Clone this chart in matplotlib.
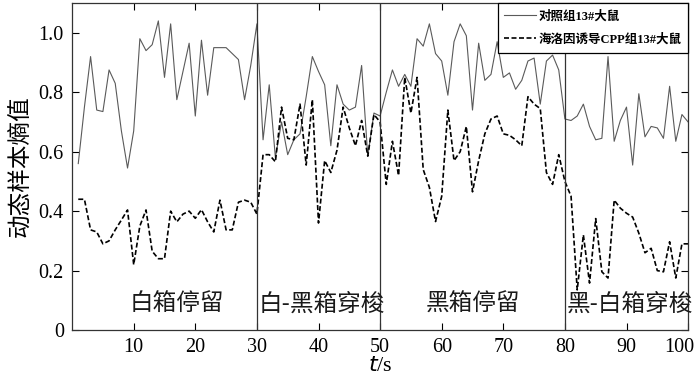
import numpy as np
import matplotlib
matplotlib.use('Agg')
import matplotlib.pyplot as plt
import matplotlib.transforms as mtransforms

t = np.arange(1, 101)

# dynamic sample entropy, control rat 13
control = [0.56, 0.75, 0.92, 0.74, 0.735, 0.875, 0.83, 0.67, 0.545, 0.67,
           0.98, 0.94, 0.96, 1.04, 0.85, 1.03, 0.775, 0.87, 0.965, 0.72,
           0.975, 0.79, 0.95, 0.95, 0.95, 0.93, 0.91, 0.775, 0.89, 1.03,
           0.64, 0.825, 0.58, 0.70, 0.59, 0.64, 0.66, 0.785, 0.92, 0.87,
           0.825, 0.62, 0.825, 0.76, 0.74, 0.75, 0.89, 0.585, 0.73, 0.72,
           0.80, 0.875, 0.82, 0.86, 0.82, 0.98, 0.955, 1.03, 0.93, 0.905,
           0.79, 0.97, 1.03, 0.99, 0.74, 0.965, 0.84, 0.86, 0.97, 0.85,
           0.865, 0.81, 0.84, 0.905, 0.915, 0.76, 0.905, 0.925, 0.875, 0.71,
           0.705, 0.72, 0.76, 0.685, 0.64, 0.645, 0.92, 0.635, 0.705, 0.75,
           0.555, 0.795, 0.65, 0.685, 0.68, 0.645, 0.82, 0.635, 0.725, 0.70]

# heroin induced CPP rat 13
cpp = [0.44, 0.44, 0.337, 0.33, 0.29, 0.30, 0.337, 0.37, 0.404, 0.22,
       0.35, 0.404, 0.265, 0.24, 0.24, 0.40, 0.364, 0.39, 0.40, 0.376,
       0.405, 0.364, 0.33, 0.437, 0.337, 0.337, 0.43, 0.437, 0.43, 0.39,
       0.59, 0.59, 0.566, 0.75, 0.645, 0.64, 0.76, 0.555, 0.775, 0.36,
       0.57, 0.53, 0.605, 0.75, 0.68, 0.62, 0.705, 0.585, 0.725, 0.70,
       0.49, 0.635, 0.52, 0.85, 0.73, 0.85, 0.54, 0.48, 0.365, 0.45,
       0.74, 0.57, 0.60, 0.685, 0.465, 0.57, 0.66, 0.71, 0.72, 0.66,
       0.655, 0.64, 0.62, 0.785, 0.76, 0.745, 0.53, 0.49, 0.59, 0.50,
       0.45, 0.135, 0.32, 0.158, 0.375, 0.196, 0.175, 0.437, 0.41, 0.393,
       0.38, 0.326, 0.26, 0.275, 0.20, 0.196, 0.297, 0.175, 0.29, 0.29]

boundaries = [30, 50, 80]
phases = ['白箱停留', '白-黑箱穿梭', '黑箱停留', '黑-白箱穿梭']
phase_x = [17, 40.5, 65, 90.5]

yticks = [0, 0.2, 0.4, 0.6, 0.8, 1.0]
ytick_labels = ['0', '0.2', '0.4', '0.6', '0.8', '1.0']
xticks = [10, 20, 30, 40, 50, 60, 70, 80, 90, 100]

cjk = ['Noto Sans CJK SC', 'DejaVu Sans']
mixed = ['Liberation Serif', 'Noto Sans CJK SC']

fig = plt.figure(figsize=(7, 3.82), dpi=100)
ax = fig.add_axes([0.103, 0.136, 0.88, 0.856])

ax.plot(t, control, color='#5a5a5a', lw=0.8, label='对照组13#大鼠')
ax.plot(t, cpp, color='black', lw=1.2, ls=(0, (3, 1.5)), label='海洛因诱导CPP组13#大鼠')

for b in boundaries:
    ax.axvline(b, color='#333333', lw=0.9)

for x, s in zip(phase_x, phases):
    ax.text(x, 0.088, s, ha='center', va='center', fontsize=17, family=cjk, color='#1a1a1a')

ax.set_xlim(0, 100)
ax.set_ylim(0, 1.1)
ax.set_xticks(xticks)
ax.set_yticks(yticks)
ax.set_yticklabels(ytick_labels)
ax.tick_params(direction='in', top=True, right=True, length=5, width=0.8, labelsize=14.5, pad=6)
for lab in ax.get_xticklabels() + ax.get_yticklabels():
    lab.set_family('Liberation Serif')
# pull the last label in so it stays inside the figure
last = ax.get_xticklabels()[-1]
last.set_transform(last.get_transform() +
                   mtransforms.ScaledTranslation(-6 / 72, 0, fig.dpi_scale_trans))
for sp in ax.spines.values():
    sp.set_linewidth(0.9)
    sp.set_color('#333333')

ax.set_ylabel('动态样本熵值', family=cjk, fontsize=17, labelpad=4)
ax.set_xlabel(r'$\mathit{t}$/s', family='Liberation Serif', fontsize=16, labelpad=0)

leg = ax.legend(loc='upper right', borderaxespad=0, fancybox=False, framealpha=1,
                edgecolor='black', prop={'family': mixed, 'size': 9, 'weight': 'bold'},
                handlelength=2.5, handletextpad=0.2, borderpad=0.55, labelspacing=0.9)
leg.get_frame().set_linewidth(0.9)

fig.savefig('out.png', dpi=100)
